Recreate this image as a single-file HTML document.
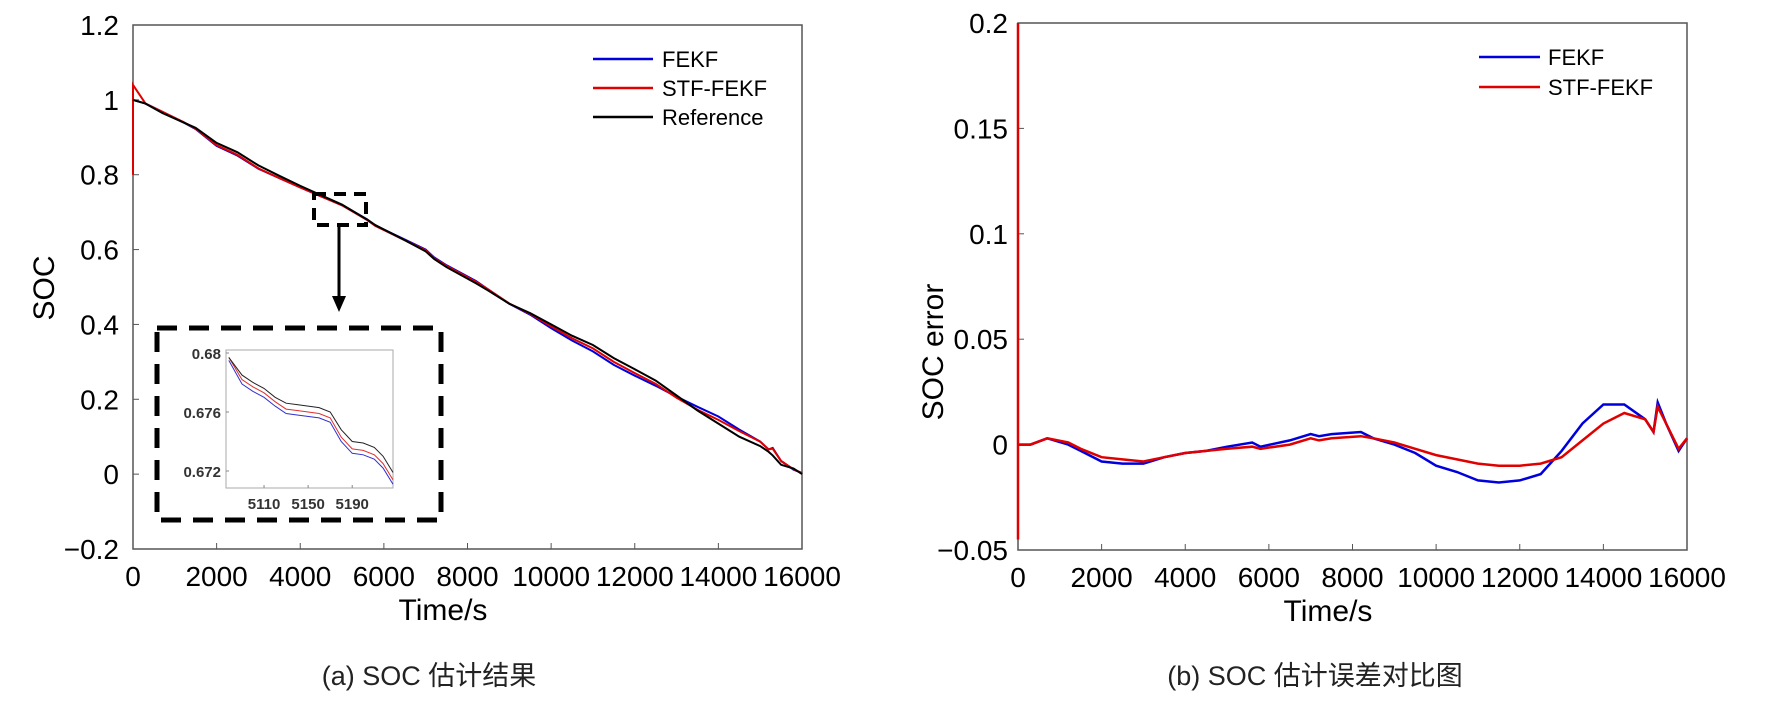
<!DOCTYPE html>
<html><head><meta charset="utf-8"><style>
html,body{margin:0;padding:0;background:#fff}
svg{display:block;font-family:"Liberation Sans","Noto Sans CJK SC",sans-serif}
</style></head><body>
<svg id="chart" width="1770" height="708" viewBox="0 0 1770 708"></svg>
<script>
const times=[0,300,700,1200,1500,2000,2500,3000,3500,4000,4500,5000,5600,5800,6500,7000,7200,7500,8200,8500,9000,9500,10000,10500,11000,11500,12000,12500,13000,13500,14000,14500,15000,15200,15300,15500,15800,16000];
const refSoc=[1.0,0.99,0.965,0.94,0.925,0.885,0.86,0.825,0.797,0.77,0.745,0.72,0.68,0.665,0.625,0.595,0.575,0.553,0.51,0.49,0.455,0.43,0.40,0.37,0.345,0.31,0.28,0.25,0.21,0.17,0.135,0.1,0.075,0.06,0.05,0.025,0.015,0.0];
const fekfErr=[0,0,0.003,0,-0.003,-0.008,-0.009,-0.009,-0.006,-0.004,-0.003,-0.001,0.001,-0.001,0.002,0.005,0.004,0.005,0.006,0.003,0,-0.004,-0.01,-0.013,-0.017,-0.018,-0.017,-0.014,-0.003,0.01,0.019,0.019,0.012,0.006,0.02,0.01,-0.003,0.003];
const stfErr=[0,0,0.003,0.001,-0.002,-0.006,-0.007,-0.008,-0.006,-0.004,-0.003,-0.002,-0.001,-0.002,0,0.003,0.002,0.003,0.004,0.003,0.001,-0.002,-0.005,-0.007,-0.009,-0.01,-0.01,-0.009,-0.006,0.002,0.01,0.015,0.012,0.006,0.018,0.01,-0.002,0.003];
const stfSpikeErr=[-0.045,0.2];
const stfSpikeSoc=[0.8,1.04];
const socTicks=[1.2,1,0.8,0.6,0.4,0.2,0,-0.2];
const socTickLabels=["1.2","1","0.8","0.6","0.4","0.2","0","\u22120.2"];
const errTicks=[0.2,0.15,0.1,0.05,0,-0.05];
const errTickLabels=["0.2","0.15","0.1","0.05","0","\u22120.05"];
const timeTicks=[0,2000,4000,6000,8000,10000,12000,14000,16000];
const inTimes=[5078,5090,5100,5110,5120,5130,5140,5160,5170,5180,5190,5200,5210,5218,5227];
const inRef=[0.6797,0.6785,0.6780,0.6776,0.6770,0.6766,0.6765,0.6763,0.6760,0.6748,0.6740,0.6739,0.6736,0.6730,0.6719];
const inStf=[0.6797,0.6782,0.6777,0.6773,0.6767,0.6762,0.6761,0.6759,0.6756,0.6743,0.6735,0.6734,0.6731,0.6725,0.6714];
const inFekf=[0.6795,0.6779,0.6774,0.6770,0.6764,0.6759,0.6758,0.6756,0.6753,0.6740,0.6732,0.6731,0.6728,0.6722,0.6711];
const inYTicks=[0.68,0.676,0.672];
const inXTicks=[5110,5150,5190];

const svg=document.getElementById('chart');
const NS='http://www.w3.org/2000/svg';
function mk(tag,attrs,text){const e=document.createElementNS(NS,tag);for(const k in attrs)e.setAttribute(k,attrs[k]);if(text!==undefined)e.textContent=text;svg.appendChild(e);return e;}
const lin=(d0,d1,r0,r1)=>v=>r0+(v-d0)*(r1-r0)/(d1-d0);

// Left axes
const lx=lin(0,16000,133,802), ly=lin(-0.2,1.2,549,25);
let e=mk('rect',{x:133,y:25,width:669,height:524,fill:'none',stroke:'#555','stroke-width':1.5});

socTicks.forEach((v,i)=>{
 e=mk('line',{x1:133,x2:139,y1:ly(v),y2:ly(v),stroke:'#555'});
 e=mk('text',{x:119,y:ly(v)+10,'text-anchor':'end','font-size':28},socTickLabels[i]);
});
timeTicks.forEach(v=>{
 e=mk('line',{x1:lx(v),x2:lx(v),y1:549,y2:543,stroke:'#555'});
 e=mk('text',{x:lx(v),y:586,'text-anchor':'middle','font-size':28},String(v));
});
e=mk('text',{x:443,y:620,'text-anchor':'middle','font-size':30},'Time/s');
e=mk('text',{x:0,y:0,'text-anchor':'middle','font-size':30,transform:'translate(54,288) rotate(-90)'},'SOC');
e=mk('text',{x:429,y:685,'text-anchor':'middle','font-size':27,fill:'#222'},'(a) SOC 估计结果');

function path(xs,ys,fx,fy){return xs.map((t,i)=>(i?'L':'M')+fx(t).toFixed(1)+','+fy(ys[i]).toFixed(1)).join(' ');}
const fekfSoc=refSoc.map((r,i)=>r+fekfErr[i]), stfSoc=refSoc.map((r,i)=>r+stfErr[i]);
e=mk('path',{d:path(times,fekfSoc,lx,ly),fill:'none',stroke:'#0000dd','stroke-width':2});
e=mk('path',{d:'M'+lx(0)+','+ly(stfSpikeSoc[0])+' L'+lx(0)+','+ly(stfSpikeSoc[1])+' L'+lx(times[1])+','+ly(stfSoc[1])+' '+path(times.slice(1),stfSoc.slice(1),lx,ly).replace('M','L'),fill:'none',stroke:'#e00000','stroke-width':2});
e=mk('path',{d:path(times,refSoc,lx,ly),fill:'none',stroke:'#000','stroke-width':2});

// legend left
[['FEKF','#0000dd'],['STF-FEKF','#e00000'],['Reference','#000']].forEach((l,i)=>{
 const y=59+i*29;
 e=mk('line',{x1:593,x2:653,y1:y,y2:y,stroke:l[1],'stroke-width':2.5});
 e=mk('text',{x:662,y:y+8,'font-size':22},l[0]);
});
// zoom marker + arrow
e=mk('rect',{x:314,y:194,width:52,height:31,fill:'none',stroke:'#000','stroke-width':4,'stroke-dasharray':'12,8'});
e=mk('line',{x1:339,x2:339,y1:226,y2:298,stroke:'#000','stroke-width':3});
e=mk('polygon',{points:'332,296 346,296 339,312',fill:'#000'});
e=mk('rect',{x:157,y:328,width:284,height:192,fill:'#fff',stroke:'#000','stroke-width':5,'stroke-dasharray':'20,12'});
// inset
const ix=lin(5075.5,5227,226,393), iy=lin(0.672,0.68,471,353);
e=mk('rect',{x:226,y:350,width:167,height:138,fill:'#fff',stroke:'#aaa','stroke-width':1});
inYTicks.forEach(v=>{
 e=mk('line',{x1:226,x2:229,y1:iy(v),y2:iy(v),stroke:'#888'});
 e=mk('text',{x:221,y:iy(v)+6,'text-anchor':'end','font-size':15,'font-weight':'bold',fill:'#333'},String(v));
});
inXTicks.forEach(v=>{
 e=mk('line',{x1:ix(v),x2:ix(v),y1:488,y2:485,stroke:'#888'});
 e=mk('text',{x:ix(v),y:509,'text-anchor':'middle','font-size':15,'font-weight':'bold',fill:'#333'},String(v));
});
e=mk('path',{d:path(inTimes,inFekf,ix,iy),fill:'none',stroke:'#3030d0','stroke-width':1});
e=mk('path',{d:path(inTimes,inStf,ix,iy),fill:'none',stroke:'#e03030','stroke-width':1});
e=mk('path',{d:path(inTimes,inRef,ix,iy),fill:'none',stroke:'#222','stroke-width':1});

// Right axes
const rx=lin(0,16000,1018,1687), ry=lin(-0.05,0.2,550,23);
e=mk('rect',{x:1018,y:23,width:669,height:527,fill:'none',stroke:'#555','stroke-width':1.5});
errTicks.forEach((v,i)=>{
 e=mk('line',{x1:1018,x2:1024,y1:ry(v),y2:ry(v),stroke:'#555'});
 e=mk('text',{x:1008,y:ry(v)+10,'text-anchor':'end','font-size':28},errTickLabels[i]);
});
timeTicks.forEach(v=>{
 e=mk('line',{x1:rx(v),x2:rx(v),y1:550,y2:544,stroke:'#555'});
 e=mk('text',{x:rx(v),y:587,'text-anchor':'middle','font-size':28},String(v));
});
e=mk('text',{x:1328,y:621,'text-anchor':'middle','font-size':30},'Time/s');
e=mk('text',{x:0,y:0,'text-anchor':'middle','font-size':30,transform:'translate(943,352) rotate(-90)'},'SOC error');
e=mk('text',{x:1315,y:685,'text-anchor':'middle','font-size':27,fill:'#222'},'(b) SOC 估计误差对比图');
e=mk('path',{d:path(times,fekfErr,rx,ry),fill:'none',stroke:'#0000dd','stroke-width':2.5});
e=mk('path',{d:'M'+rx(0)+','+ry(stfSpikeErr[0])+' L'+rx(0)+','+ry(stfSpikeErr[1])+' L'+rx(0)+','+ry(stfErr[0])+' '+path(times,stfErr,rx,ry).replace('M','L'),fill:'none',stroke:'#e00000','stroke-width':2.5});
[['FEKF','#0000dd'],['STF-FEKF','#e00000']].forEach((l,i)=>{
 const y=57+i*30;
 e=mk('line',{x1:1479,x2:1540,y1:y,y2:y,stroke:l[1],'stroke-width':2.5});
 e=mk('text',{x:1548,y:y+8,'font-size':22},l[0]);
});
</script>
</body></html>
